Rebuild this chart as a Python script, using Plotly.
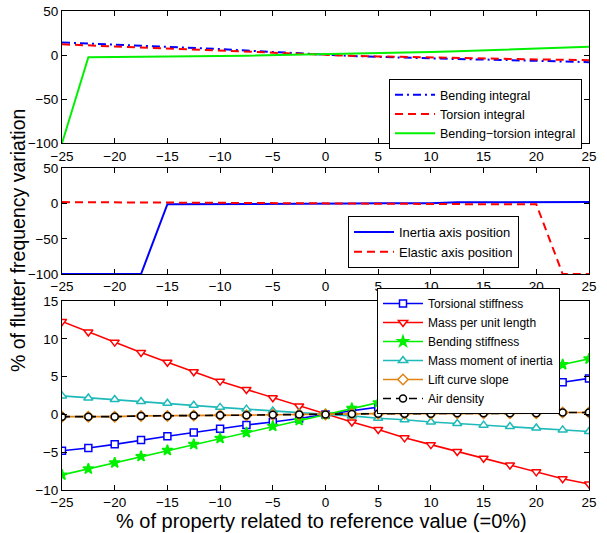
import plotly.graph_objects as go

# ---------------- data ----------------
x = [-25, -22.5, -20, -17.5, -15, -12.5, -10, -7.5, -5, -2.5, 0,
     2.5, 5, 7.5, 10, 12.5, 15, 17.5, 20, 22.5, 25]

# top panel
bending_integral = [14.4, 13.2, 12.0, 10.8, 9.5, 8.2, 6.8, 5.1, 3.4, 1.7, 0,
                    -1.0, -2.0, -3.0, -4.0, -4.5, -5.0, -5.8, -6.6, -7.3, -8.0]
torsion_integral = [12.2, 11.0, 9.8, 8.6, 7.4, 6.3, 5.2, 4.0, 2.7, 1.3, 0,
                    -0.8, -1.5, -2.2, -2.8, -3.3, -3.8, -4.3, -4.9, -5.3, -5.8]
bending_torsion = [-100, -2.3, -2.2, -2.1, -2.0, -1.4, -1.0, -0.6, 0.0, 0.2, 0.4,
                   1.2, 2.2, 2.8, 3.6, 4.4, 5.3, 6.0, 6.8, 8.0, 9.4]

# middle panel
inertia_axis = [-100, -100, -100, -100, -1.0, -1.0, -1.0, -1.0, -1.0, -0.8, -0.5,
                0.0, 0.3, 0.5, 0.5, 1.8, 2.0, 2.0, 2.0, 2.0, 2.0]
elastic_axis = [2.0, 2.0, 2.0, 1.8, 1.5, 1.2, 1.0, 0.8, 0.5, 0.2, 0,
                -0.4, -0.6, -0.8, -1.0, -1.0, -1.0, -1.0, -1.0, -100, -100]

# bottom panel
torsional_stiffness = [-4.8, -4.45, -3.96, -3.4, -2.9, -2.4, -1.9, -1.4, -1.0, -0.55, 0,
                       0.5, 0.95, 1.45, 1.9, 2.35, 2.8, 3.25, 3.7, 4.25, 4.76]
mass_per_length = [12.3, 10.9, 9.56, 8.2, 6.9, 5.65, 4.4, 3.3, 2.2, 1.1, 0,
                   -1.0, -2.0, -3.1, -4.0, -4.9, -5.8, -6.7, -7.6, -8.5, -9.2]
bending_stiffness = [-8.0, -7.2, -6.4, -5.55, -4.75, -3.96, -3.16, -2.4, -1.56, -0.8, 0,
                     0.8, 1.56, 2.3, 3.0, 3.7, 4.4, 5.1, 5.8, 6.6, 7.35]
mass_moment = [2.45, 2.18, 1.96, 1.7, 1.47, 1.2, 0.93, 0.7, 0.45, 0.22, 0,
               -0.2, -0.5, -0.7, -1.0, -1.2, -1.42, -1.6, -1.8, -2.05, -2.27]
lift_slope = [-0.3, -0.3, -0.3, -0.2, -0.2, -0.15, -0.1, -0.1, -0.05, 0, 0,
              0.05, 0.1, 0.1, 0.1, 0.15, 0.15, 0.15, 0.15, 0.25, 0.25]
air_density = [-0.3, -0.3, -0.3, -0.2, -0.2, -0.15, -0.1, -0.1, -0.05, 0, 0,
               0.05, 0.1, 0.1, 0.1, 0.15, 0.15, 0.15, 0.15, 0.25, 0.25]

x_ticks = [-25, -20, -15, -10, -5, 0, 5, 10, 15, 20, 25]
y_ticks_top = [-100, -50, 0, 50]
y_ticks_bottom = [-10, -5, 0, 5, 10, 15]

FONT = "Liberation Sans, Arial, Helvetica, sans-serif"
W, H = 607, 533
ML, MR, MT, MB = 62, 18, 11, 43
PW, PH = W - ML - MR, H - MT - MB
GREEN = "rgb(0,240,0)"


def py(pix):
    return (H - MB - pix) / PH


def px(pix):
    return (pix - ML) / PW


fig = go.Figure()

# top panel
fig.add_trace(go.Scatter(x=x, y=bending_integral, mode="lines", name="Bending integral",
                         line=dict(color="rgb(0,0,255)", width=2, dash="8px,4px,2px,4px"),
                         xaxis="x", yaxis="y", legend="legend"))
fig.add_trace(go.Scatter(x=x, y=torsion_integral, mode="lines", name="Torsion integral",
                         line=dict(color="rgb(255,0,0)", width=2, dash="8px,5px"),
                         xaxis="x", yaxis="y", legend="legend"))
fig.add_trace(go.Scatter(x=x, y=bending_torsion, mode="lines", name="Bending\u2212torsion integral",
                         line=dict(color=GREEN, width=2),
                         xaxis="x", yaxis="y", legend="legend"))

# middle panel
fig.add_trace(go.Scatter(x=x, y=inertia_axis, mode="lines", name="Inertia axis position",
                         line=dict(color="rgb(0,0,255)", width=2),
                         xaxis="x2", yaxis="y2", legend="legend2"))
fig.add_trace(go.Scatter(x=x, y=elastic_axis, mode="lines", name="Elastic axis position",
                         line=dict(color="rgb(255,0,0)", width=2, dash="8px,5px"),
                         xaxis="x2", yaxis="y2", legend="legend2"))

# bottom panel
bottom = [
    ("Torsional stiffness", torsional_stiffness, "rgb(0,0,255)", "square", "white", 7, "solid"),
    ("Mass per unit length", mass_per_length, "rgb(255,0,0)", "triangle-down", "white", 8, "solid"),
    ("Bending stiffness", bending_stiffness, GREEN, "star", GREEN, 8, "solid"),
    ("Mass moment of inertia", mass_moment, "rgb(30,185,185)", "triangle-up", "white", 8, "solid"),
    ("Lift curve slope", lift_slope, "rgb(225,130,20)", "diamond", "white", 8, "solid"),
    ("Air density", air_density, "black", "circle", "white", 7, "8px,5px"),
]
for name, vals, col, sym, fill, size, dash in bottom:
    fig.add_trace(go.Scatter(x=x, y=vals, mode="lines+markers", name=name,
                             line=dict(color=col, width=1.6, dash=dash),
                             marker=dict(symbol=sym, size=size, color=fill,
                                         line=dict(color=col, width=1.5)),
                             xaxis="x3", yaxis="y3", legend="legend3"))

axis_common = dict(showline=True, linecolor="black", linewidth=1, mirror="ticks",
                   ticks="inside", ticklen=5, tickcolor="black", tickwidth=1,
                   showgrid=False, zeroline=False,
                   tickfont=dict(family=FONT, size=13.5, color="black"))

legend_common = dict(xanchor="left", yanchor="top", bgcolor="white", bordercolor="black",
                     borderwidth=1, tracegroupgap=0, itemwidth=40)

fig.update_layout(
    width=W, height=H,
    margin=dict(l=ML, r=MR, t=MT, b=MB, autoexpand=False),
    paper_bgcolor="white", plot_bgcolor="white",
    font=dict(family=FONT, size=13.5, color="black"),
    xaxis=dict(domain=[0, 1], range=[-25, 25], tickvals=x_ticks, anchor="y", **axis_common),
    yaxis=dict(domain=[py(143.3), 1], range=[-100, 50], tickvals=y_ticks_top, anchor="x", **axis_common),
    xaxis2=dict(domain=[0, 1], range=[-25, 25], tickvals=x_ticks, anchor="y2", **axis_common),
    yaxis2=dict(domain=[py(274), py(168.3)], range=[-100, 50], tickvals=y_ticks_top, anchor="x2", **axis_common),
    xaxis3=dict(domain=[0, 1], range=[-25, 25], tickvals=x_ticks, anchor="y3", **axis_common),
    yaxis3=dict(domain=[0, py(301)], range=[-10, 15], tickvals=y_ticks_bottom, anchor="x3", **axis_common),
    legend=dict(x=px(389), y=py(79), font=dict(family=FONT, size=12.5, color="black"), **legend_common),
    legend2=dict(x=px(348), y=py(216), font=dict(family=FONT, size=13, color="black"), **legend_common),
    legend3=dict(x=px(377), y=py(288), font=dict(family=FONT, size=12, color="black"), **legend_common),
    showlegend=True,
    annotations=[
        dict(text="% of flutter frequency variation", xref="paper", yref="paper",
             x=px(18), y=py(241), xanchor="center", yanchor="middle", textangle=-90,
             showarrow=False, font=dict(family=FONT, size=19.5, color="black")),
        dict(text="% of property related to reference value (=0%)", xref="paper", yref="paper",
             x=px(321), y=py(521), xanchor="center", yanchor="middle",
             showarrow=False, font=dict(family=FONT, size=20, color="black")),
    ],
)

fig.write_html("out.html")
